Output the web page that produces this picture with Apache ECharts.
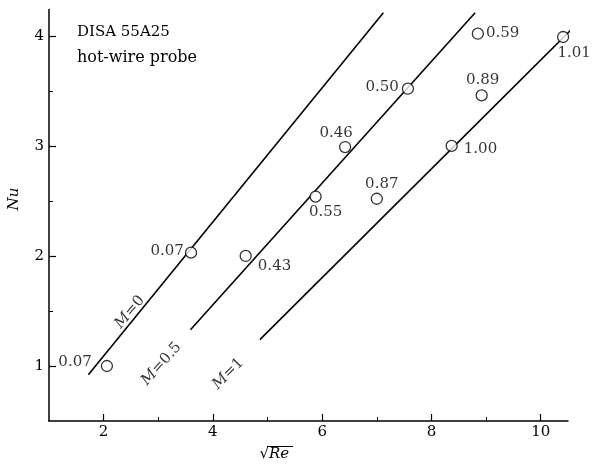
<!DOCTYPE html>
<html><head><meta charset="utf-8">
<script src="https://cdn.jsdelivr.net/npm/echarts@6/dist/echarts.min.js"></script>
<style>html,body{margin:0;padding:0;background:#fff}#c{width:593px;height:466px}</style>
</head><body><div id="c"></div>
<script>
// ---- data ----
const sqrtRe = [2.06, 3.60, 4.60, 5.88, 6.42, 7.00, 7.57, 8.37, 8.92, 8.85, 10.41];
const nu     = [1.00, 2.03, 2.00, 2.54, 2.99, 2.52, 3.52, 3.00, 3.46, 4.02, 3.99];
const machLabels = ['0.07','0.07','0.43','0.55','0.46','0.87','0.50','1.00','0.89','0.59','1.01'];
const lineNames = ['M=0', 'M=0.5', 'M=1'];
const lineMach = ['0', '0.5', '1'];
const lineX = [[1.72, 7.12], [3.59, 8.80], [4.86, 10.87]];
const lineY = [[0.92, 4.21], [1.33, 4.21], [1.24, 4.21]];
const xMajorTicks = [2, 4, 6, 8, 10];
const xMinorTicks = [3, 5, 7, 9];
const yMajorTicks = [1, 2, 3, 4];
const yMinorTicks = [1.5, 2.5, 3.5];

// ---- annotation placement (styles / positions, not data) ----
const labelPlacement = [
  {position:'left',   distance:9, offset:[0,-4]},
  {position:'left',   distance:1, offset:[0,-2]},
  {position:'right',  distance:6, offset:[0,10]},
  {position:'bottom', distance:2, offset:[10,0]},
  {position:'top',    distance:0, offset:[-9,0]},
  {position:'top',    distance:1, offset:[5,0]},
  {position:'left',   distance:3, offset:[0,-2]},
  {position:'right',  distance:6, offset:[0,3]},
  {position:'top',    distance:2, offset:[1,0]},
  {position:'right',  distance:2, offset:[0,-1]},
  {position:'bottom', distance:2, offset:[11,0]}
];
const lineTagX = [2.48, 3.06, 4.28];
const lineTagY = [1.49, 1.02, 0.93];
const lineTagRot = [50, 48, 45];

const FONT = 'DejaVu Serif';
const chart = echarts.init(document.getElementById('c'), null, {renderer:'canvas'});

const axisCommon = {
  axisLine:{show:true, lineStyle:{color:'#000', width:1.5}},
  splitLine:{show:false}
};

const option = {
  animation:false,
  backgroundColor:'#fff',
  grid:{left:49, right:25, top:9.5, bottom:45, containLabel:false},
  xAxis:[
    Object.assign({}, axisCommon, {
      type:'value', min:1, max:10.5, position:'bottom',
      axisTick:{show:true, inside:true, length:7, customValues:xMajorTicks, lineStyle:{color:'#000', width:1.2}},
      axisLabel:{show:true, customValues:xMajorTicks, margin:4, color:'#000', fontFamily:FONT, fontSize:15}
    }),
    {
      type:'value', min:1, max:10.5, position:'bottom',
      axisLine:{show:false}, splitLine:{show:false}, axisLabel:{show:false},
      axisTick:{show:true, inside:true, length:4, customValues:xMinorTicks, lineStyle:{color:'#000', width:1}}
    }
  ],
  yAxis:[
    Object.assign({}, axisCommon, {
      type:'value', min:0.5, max:4.24, position:'left',
      axisTick:{show:true, inside:true, length:7, customValues:yMajorTicks, lineStyle:{color:'#000', width:1.2}},
      axisLabel:{show:true, customValues:yMajorTicks, margin:5, color:'#000', fontFamily:FONT, fontSize:15}
    }),
    {
      type:'value', min:0.5, max:4.24, position:'left',
      axisLine:{show:false}, splitLine:{show:false}, axisLabel:{show:false},
      axisTick:{show:true, inside:true, length:4, customValues:yMinorTicks, lineStyle:{color:'#000', width:1}}
    }
  ],
  graphic:[
    {type:'text', left:77, top:25, style:{text:'DISA 55A25', font:'15px "DejaVu Serif"', fill:'#000'}},
    {type:'text', left:77, top:50, style:{text:'hot-wire probe', font:'16px "DejaVu Serif"', fill:'#000'}},
    {type:'text', x:14, y:199, rotation:Math.PI/2, style:{text:'Nu', font:'italic 15px "DejaVu Serif"', fill:'#000', align:'center', verticalAlign:'middle'}},
    {type:'text', x:269, y:454, style:{text:'\u221A', font:'15px "DejaVu Serif"', fill:'#000', align:'right', verticalAlign:'middle'}},
    {type:'text', x:269, y:454, style:{text:'Re', font:'italic 15px "DejaVu Serif"', fill:'#000', align:'left', verticalAlign:'middle'}},
    {type:'line', shape:{x1:267, y1:446.5, x2:293, y2:446.5}, style:{stroke:'#000', lineWidth:1}}
  ],
  series:[
    ...lineNames.map((n,i)=>({
      type:'line', name:n, xAxisIndex:0, yAxisIndex:0, clip:false, symbol:'none', silent:true, z:2,
      lineStyle:{color:'#000', width:1.6},
      data:[[lineX[i][0], lineY[i][0]], [lineX[i][1], lineY[i][1]]]
    })),
    {
      type:'scatter', name:'tags', clip:false, symbolSize:0, z:3, silent:true,
      data: lineNames.map((n,i)=>({
        value:[lineTagX[i], lineTagY[i]],
        label:{show:true, position:'inside', rotate:lineTagRot[i],
          formatter:'{i|M}{n|=' + lineMach[i] + '}',
          rich:{i:{fontFamily:FONT, fontStyle:'italic', fontSize:15, color:'#000'}, n:{fontFamily:FONT, fontSize:15, color:'#000'}}}
      }))
    },
    {
      type:'scatter', name:'points', clip:false, symbol:'circle', symbolSize:11, z:4,
      itemStyle:{color:'#fff', borderColor:'#000', borderWidth:1.3},
      label:{show:true, color:'#000', fontFamily:FONT, fontSize:15},
      data: sqrtRe.map((x,i)=>({
        value:[x, nu[i]],
        label:Object.assign({show:true, formatter:machLabels[i], color:'#000', fontFamily:FONT, fontSize:15}, labelPlacement[i])
      }))
    }
  ]
};
chart.setOption(option);
</script>
</body></html>
